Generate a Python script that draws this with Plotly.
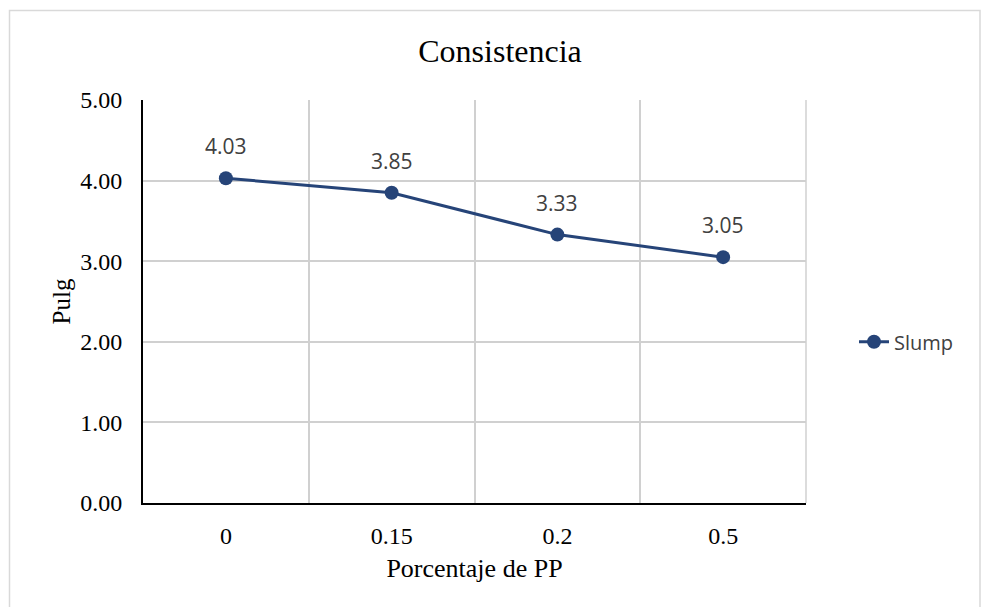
import plotly.graph_objects as go

# Slump test results by polypropylene fibre percentage
porcentajes = ["0", "0.15", "0.2", "0.5"]
slump = [4.03, 3.85, 3.33, 3.05]
y_ticks = [0, 1, 2, 3, 4, 5]

W, H = 981, 607
ML, MR, MT, MB = 143, 175, 100, 104
LINE_COLOR = "#264478"
GRID = "#d0d0d0"
SERIF = "Liberation Serif, Times New Roman, serif"
SANS = "Open Sans, Noto Sans, sans-serif"

fig = go.Figure()
fig.add_trace(go.Scatter(
    x=porcentajes, y=slump, mode="lines+markers", name="Slump",
    line=dict(color=LINE_COLOR, width=3),
    marker=dict(color=LINE_COLOR, size=14),
))

# value labels above each point (category axis positions are indices)
for i, val in enumerate(slump):
    fig.add_annotation(
        x=i, y=val, text=f"{val:.2f}", showarrow=False,
        yshift=32, font=dict(family=SANS, size=21, color="#404040"),
    )

# light outer frame around the chart area
pw, ph = W - ML - MR, H - MT - MB
fig.add_shape(
    type="rect", xref="paper", yref="paper",
    x0=(9.5 - ML) / pw, x1=(980 - ML) / pw,
    y0=(H - MB - 620) / ph, y1=(H - MB - 10.5) / ph,
    line=dict(color="#d9d9d9", width=1.5), fillcolor="rgba(0,0,0,0)",
    layer="below",
)

fig.update_layout(
    width=W, height=H,
    margin=dict(l=ML, r=MR, t=MT, b=MB),
    paper_bgcolor="white", plot_bgcolor="white",
    title=dict(text="Consistencia", x=500 / W, xanchor="center",
               y=1 - 51 / H, yanchor="middle",
               font=dict(family=SERIF, size=32, color="black")),
    showlegend=True,
    legend=dict(x=1 + 48 / pw, xanchor="left", xref="paper", y=0.40, yanchor="middle",
                font=dict(family=SANS, size=20, color="#404040"),
                bgcolor="rgba(0,0,0,0)"),
    xaxis=dict(
        type="category", range=[-0.5, 3.5], tickson="boundaries",
        showgrid=True, gridcolor=GRID, gridwidth=1.5,
        showline=True, linecolor="black", linewidth=2,
        ticks="", ticklabelstandoff=10,
        tickfont=dict(family=SERIF, size=24, color="black"),
        title=dict(text="Porcentaje de PP", standoff=11,
                   font=dict(family=SERIF, size=26, color="black")),
        mirror=False, zeroline=False,
    ),
    yaxis=dict(
        range=[0, 5], tickvals=y_ticks, tickformat=".2f",
        showgrid=True, gridcolor=GRID, gridwidth=1.5,
        showline=True, linecolor="black", linewidth=2,
        ticks="", ticklabelstandoff=14,
        tickfont=dict(family=SERIF, size=24, color="black"),
        title=dict(text="Pulg", standoff=2,
                   font=dict(family=SERIF, size=25, color="black")),
        zeroline=False,
    ),
)
# right edge of plot area drawn as gridline color
fig.add_shape(type="line", xref="paper", yref="paper", x0=1, x1=1, y0=0, y1=1,
              line=dict(color=GRID, width=1.5))

fig.write_html("out.html")
